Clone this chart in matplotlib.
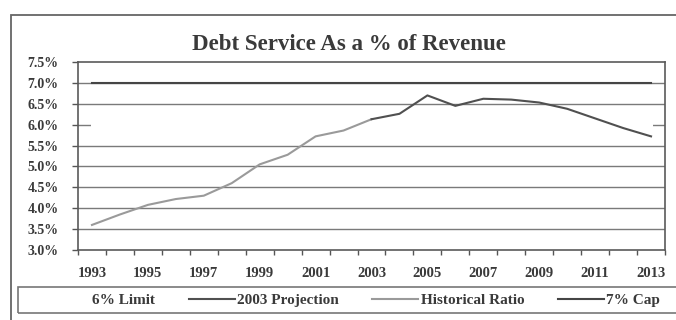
import numpy as np
import matplotlib
matplotlib.use('Agg')
import matplotlib.pyplot as plt
from matplotlib.patches import Rectangle

# Debt service ratio, 1993-2013
years = list(range(1993, 2014))
hist_years = list(range(1993, 2004))
hist_ratio = [3.60, 3.85, 4.08, 4.22, 4.30, 4.60, 5.05, 5.28, 5.72, 5.86, 6.13]
proj_years = list(range(2003, 2014))
proj_ratio = [6.13, 6.26, 6.70, 6.45, 6.62, 6.60, 6.53, 6.38, 6.15, 5.92, 5.72]
limit_pct = 6.0
cap_pct = 7.0
y_ticks = [3.0, 3.5, 4.0, 4.5, 5.0, 5.5, 6.0, 6.5, 7.0, 7.5]
x_labels = [str(y) for y in range(1993, 2014, 2)]

txt = '#3a3a3a'
plt.rcParams['font.family'] = ['Liberation Serif', 'DejaVu Serif']
plt.rcParams['font.weight'] = 'bold'

fig = plt.figure(figsize=(6.76, 3.2), dpi=100)
ax = fig.add_axes([78 / 676, 1 - 250 / 320, 587 / 676, 188 / 320])

# outer frame around the whole chart
fig.patches.append(Rectangle((11 / 676, -0.2), 2.0, 1.2 - 15 / 320,
                             transform=fig.transFigure, fill=False,
                             edgecolor='#666666', lw=1.3))
# legend frame
fig.patches.append(Rectangle((18 / 676, 1 - 313 / 320), 1.0, 26 / 320,
                             transform=fig.transFigure, fill=False,
                             edgecolor='#777777', lw=1.2))

for v in y_ticks[1:-1]:
    ax.axhline(v, color='#7a7a7a', lw=1.0, zorder=1)

ax.plot([years[0], years[-1]], [limit_pct, limit_pct], color='white', lw=2.2,
        zorder=2, label='6% Limit')
ax.plot(proj_years, proj_ratio, color='#505050', lw=1.5, zorder=4,
        label='2003 Projection')
ax.plot(hist_years, hist_ratio, color='#9a9a9a', lw=1.5, zorder=3,
        label='Historical Ratio')
ax.plot([years[0], years[-1]], [cap_pct, cap_pct], color='#454545', lw=1.5,
        zorder=2, label='7% Cap')

ax.set_xlim(1992.5, 2013.5)
ax.set_ylim(3.0, 7.5)
ax.set_yticks(y_ticks)
ax.set_yticklabels([f'{v:.1f}%' for v in y_ticks])
ax.set_xticks(list(range(1993, 2014, 2)))
ax.set_xticklabels(x_labels)
ax.set_xticks(np.arange(1992.5, 2014, 1), minor=True)
ax.tick_params(axis='x', which='major', length=0, pad=12, labelsize=10.5,
               labelcolor=txt)
ax.tick_params(axis='x', which='minor', length=3.5, direction='out',
               color='#555555', width=1.0)
ax.tick_params(axis='y', length=4, direction='out', color='#555555',
               width=1.0, labelsize=10, labelcolor=txt, pad=10)
for s in ax.spines.values():
    s.set_color('#5a5a5a')
    s.set_linewidth(1.2)

fig.text(349 / 676, 1 - 45 / 320, 'Debt Service As a % of Revenue',
         ha='center', va='center', fontsize=16.5, fontweight='bold', color=txt)

fig.legend(loc='center', bbox_to_anchor=(352 / 676, 1 - 300 / 320), ncol=4,
           frameon=False, fontsize=11, labelcolor=txt, handlelength=3.0,
           handletextpad=0.15, columnspacing=2.2, borderpad=0)

fig.savefig('out.png', dpi=100, facecolor='white')
